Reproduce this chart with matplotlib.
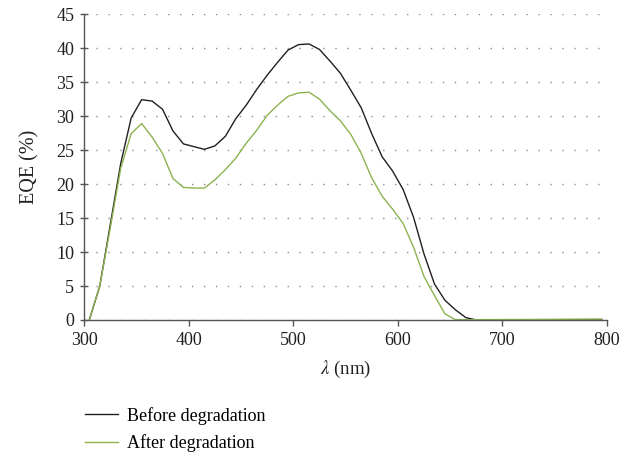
import numpy as np
import matplotlib
matplotlib.use("Agg")
import matplotlib.pyplot as plt

plt.rcParams["font.family"] = ["Liberation Serif", "DejaVu Serif"]
plt.rcParams["mathtext.fontset"] = "stix"

# wavelength grid (nm) and EQE (%)
wavelength = np.arange(305, 800, 10)
eqe_before = [0, 5, 14, 23, 29.7, 32.4, 32.2, 31.0, 27.8, 25.9,
              25.5, 25.1, 25.6, 27.0, 29.6, 31.6, 33.9, 36.0, 37.9, 39.7,
              40.5, 40.6, 39.8, 38.1, 36.3, 33.8, 31.2, 27.4, 24.0, 21.9,
              19.2, 15.1, 9.7, 5.3, 2.9, 1.5, 0.35, 0.0, 0.0, 0.0,
              0.0, 0.0, 0.0, 0.0, 0.0, 0.0, 0.0, 0.0, 0.0, 0.0]
eqe_after = [0, 5, 13.5, 22.3, 27.4, 28.9, 26.9, 24.5, 20.8, 19.5,
             19.4, 19.4, 20.6, 22.1, 23.8, 26.0, 27.9, 30.1, 31.6, 32.9,
             33.4, 33.5, 32.5, 30.8, 29.3, 27.3, 24.5, 20.9, 18.2, 16.3,
             14.2, 10.7, 6.4, 3.6, 0.9, 0.05, 0.05, 0.05, 0.06, 0.06,
             0.07, 0.08, 0.08, 0.09, 0.1, 0.11, 0.12, 0.13, 0.14, 0.15]
series_labels = ["Before degradation", "After degradation"]
colors = ["#231f20", "#8cb34f"]

fig = plt.figure(figsize=(6.37, 4.53), dpi=100)
ax = fig.add_axes([0.132, 0.2936, 0.821, 0.6754])

for y, lab, c in zip([eqe_before, eqe_after], series_labels, colors):
    ax.plot(wavelength, y, color=c, lw=1.0, label=lab)

ax.set_xlim(300, 800)
ax.set_ylim(0, 45)
ax.set_xticks(np.arange(300, 801, 100))
ax.set_yticks(np.arange(0, 46, 5))
ax.yaxis.grid(True, color="#8a8a8a", lw=1.0, linestyle=(0, (1, 7.6)))
ax.set_axisbelow(True)

for s in ["top", "right"]:
    ax.spines[s].set_visible(False)
for s in ["left", "bottom"]:
    ax.spines[s].set_color("#555555")
    ax.spines[s].set_linewidth(1.0)
ax.tick_params(axis="both", colors="#555555", labelcolor="#231f20",
               labelsize=13, width=1.0)
ax.tick_params(axis="x", direction="out", length=4, pad=5)
ax.tick_params(axis="y", direction="inout", length=6, pad=4)

ax.set_xlabel(r"$\lambda$ (nm)", fontsize=13.5, color="#231f20", labelpad=7)
ax.set_ylabel("EQE (%)", fontsize=14.5, color="#231f20", labelpad=12)

fig.legend(loc="upper left", bbox_to_anchor=(0.122, 0.118), frameon=False,
           fontsize=13, handlelength=1.85, handletextpad=0.5,
           labelspacing=0.55, borderaxespad=0)

fig.savefig("out.png", dpi=100)
